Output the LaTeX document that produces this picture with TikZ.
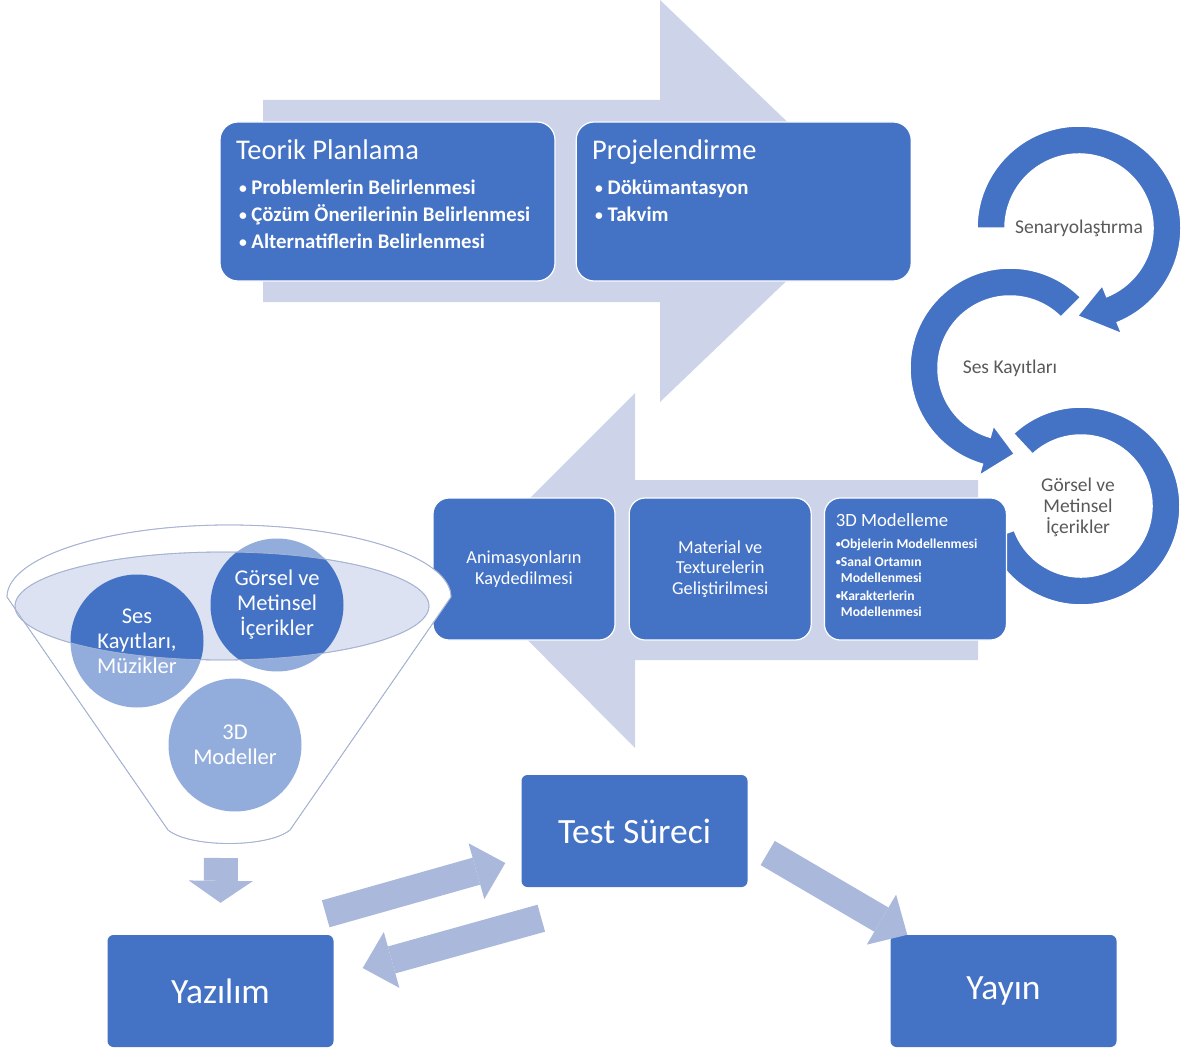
\documentclass[tikz,border=0pt]{standalone}
\usepackage{fontspec}
\setmainfont{Carlito}
\usepackage{xcolor}
\usepackage{tikz}
\usetikzlibrary{arrows.meta,positioning,calc}
\definecolor{smartblue}{RGB}{68,114,196}
\definecolor{flowgray}{RGB}{205,212,234}
\definecolor{blockgray}{RGB}{170,184,220}
\definecolor{funnelline}{RGB}{165,178,210}
\definecolor{funnelfill}{RGB}{220,226,241}
\definecolor{ringtext}{RGB}{89,89,89}
\newcommand{\smallbullet}{\raisebox{0.1ex}{\scalebox{0.75}{\textbullet}}}

\begin{document}
\begin{tikzpicture}[
x=1pt,y=1pt,
phase/.style={draw=white,line width=1.2pt,fill=smartblue,rounded corners=18pt,text=white,inner xsep=16pt,inner ysep=12pt,minimum width=335pt,minimum height=159pt},
stagebox/.style={draw=white,line width=1.2pt,fill=smartblue,rounded corners=16pt,text=white,align=center,minimum width=182pt,minimum height=142pt,font=\fontsize{18.3}{20.5}\selectfont},
endbox/.style={fill=smartblue,rounded corners=6pt,text=white,minimum width=226pt,minimum height=112pt,font=\fontsize{35.5}{40}\selectfont},
disc/.style={circle,fill=smartblue,text=white,align=center,minimum size=133pt,inner sep=0pt,font=\fontsize{22.5}{25}\selectfont},
ringtxt/.style={text=ringtext,align=center,font=\fontsize{19.5}{21}\selectfont},
ring/.style={fill=smartblue,draw=white,line width=1.5pt},
flow/.style={fill=flowgray},
blk/.style={draw=blockgray,line width=28pt,-{Triangle[length=30pt,width=58pt,line width=0pt]}},
blkdown/.style={draw=blockgray,line width=34pt,-{Triangle[length=22pt,width=64pt,line width=0pt]}}
]
\useasboundingbox (0,0) rectangle (1184,-1054);
\fill[flow] (263,-100)--(660,-100)--(660,0)--(870,-201)--(660,-402)--(660,-302)--(263,-302)--cycle;
\fill[flow] (978,-480)--(635,-480)--(635,-393)--(458,-570)--(635,-748)--(635,-660)--(978,-660)--cycle;
\coordinate (c1) at (1079,-228);
\coordinate (c2) at (1010,-368);
\coordinate (c3) at (1081,-506);
\path[ring] ($(c3)+(133:99)$) arc[start angle=133,end angle=-160,radius=99] -- ($(c3)+(-160:71)$) arc[start angle=-160,end angle=133,radius=71] -- cycle;
\path[ring] ($(c2)+(45:100)$) arc[start angle=45,end angle=254,radius=100] -- ($(c2)+(254:112)$) -- ($(c2)+(273:86)$) -- ($(c2)+(254:60)$) -- ($(c2)+(254:72)$) arc[start angle=254,end angle=45,radius=72] -- cycle;
\path[ring] ($(c1)+(180:102)$) arc[start angle=180,end angle=-68,radius=102] -- ($(c1)+(-68:114)$) -- ($(c1)+(-91:88)$) -- ($(c1)+(-68:62)$) -- ($(c1)+(-68:74)$) arc[start angle=-68,end angle=180,radius=74] -- cycle;
\node[ringtxt] (senaryo) at (c1) {Senaryolaştırma};
\node[ringtxt] (seskayit) at (c2) {Ses Kayıtları};
\node[ringtxt] (gorsel) at ($(c3)+(-3,-1)$) {Görsel ve\\Metinsel\\İçerikler};
\node[phase] (teorik) at (387.5,-201.5) {\parbox[c][135pt][t]{303pt}{\raggedright\fontsize{28.5}{30}\selectfont\rule{0pt}{26pt}Teorik Planlama\par
\vspace{8pt}\fontsize{20.8}{27}\selectfont\bfseries
\hspace*{3pt}\smallbullet\ Problemlerin Belirlenmesi\par
\hspace*{3pt}\smallbullet\ Çözüm Önerilerinin Belirlenmesi\par
\hspace*{3pt}\smallbullet\ Alternatiflerin Belirlenmesi}};
\node[phase,right=20pt of teorik] (proj) {\parbox[c][135pt][t]{303pt}{\raggedright\fontsize{28.5}{30}\selectfont\rule{0pt}{26pt}Projelendirme\par
\vspace{8pt}\fontsize{20.8}{27}\selectfont\bfseries
\hspace*{3pt}\smallbullet\ Dökümantasyon\par
\hspace*{3pt}\smallbullet\ Takvim}};
\node[stagebox] (anim) at (524,-569) {Animasyonların\\Kaydedilmesi};
\node[stagebox,right=13pt of anim] (mater) {Material ve\\Texturelerin\\Geliştirilmesi};
\node[stagebox,right=12pt of mater,inner xsep=11pt,inner ysep=8pt,align=left] (model) {\parbox[c][126pt][t]{159pt}{\raggedright\fontsize{18.7}{20}\selectfont\rule{0pt}{20pt}3D Modelleme\par
\vspace{6pt}\fontsize{13.6}{16.5}\selectfont\bfseries
\smallbullet Objelerin Modellenmesi\par
\vspace{1pt}\smallbullet Sanal Ortamın\\\phantom{\smallbullet}Modellenmesi\par
\vspace{1pt}\smallbullet Karakterlerin\\\phantom{\smallbullet}Modellenmesi}};
\filldraw[fill=white,draw=funnelline,line width=0.8pt] (7,-597) -- (168,-830) .. controls (190,-848) and (268,-848) .. (290,-830) -- (451,-597) arc[start angle=0,end angle=180,x radius=222,y radius=72] -- cycle;
\filldraw[fill=funnelfill,draw=funnelline,line width=0.8pt] (222,-606) ellipse[x radius=207,y radius=54];
\node[disc] (sesc) at (137,-641) {Ses\\Kayıtları,\\Müzikler};
\node[disc] (gorc) at (277,-605) {Görsel ve\\Metinsel\\İçerikler};
\node[disc] (modc) at (235,-745) {3D\\Modeller};
\fill[white,fill opacity=0.42,even odd rule] (7,-597) -- (168,-830) .. controls (190,-848) and (268,-848) .. (290,-830) -- (451,-597) arc[start angle=0,end angle=180,x radius=222,y radius=72] -- cycle (222,-606) ellipse[x radius=207,y radius=54];
\draw[funnelline,line width=0.8pt] (7,-597) -- (168,-830) .. controls (190,-848) and (268,-848) .. (290,-830) -- (451,-597) arc[start angle=0,end angle=180,x radius=222,y radius=72] -- cycle;
\draw[funnelline,line width=0.8pt] (222,-606) ellipse[x radius=207,y radius=54];
\node[endbox] (test) at (634.5,-831) {Test Süreci};
\node[endbox] (yazilim) at (220.5,-991) {Yazılım};
\node[endbox] (yayin) at (1003.5,-991) {Yayın};
\coordinate (funnelout) at (221,-858);
\draw[blkdown] (funnelout) -- ($(yazilim.north)+(0,32)$);
\draw[blk] ($(yazilim.north east)+(-8,21)$) -- ($(test.west)+(-16,-32)$);
\draw[blk] ($(test.south west)+(20,-31)$) -- ($(yazilim.east)+(29,23)$);
\draw[blk] ($(test.east)+(20,-22)$) -- ($(yayin.north west)+(17,0)$);
\end{tikzpicture}
\end{document}
